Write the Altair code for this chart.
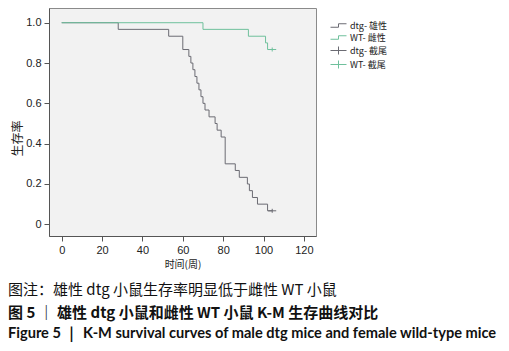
import altair as alt
import pandas as pd

# ---- data ----
dtg_weeks = [0, 28, 53, 60, 63, 64, 65, 66, 67, 68, 69, 70, 71, 73, 76, 77, 79, 81,
             86, 88, 92, 93, 94.5, 97, 102, 104.3]
dtg_surv = [1.0, 0.967, 0.933, 0.867, 0.833, 0.8, 0.767, 0.733, 0.7, 0.667, 0.633, 0.6,
            0.567, 0.533, 0.5, 0.467, 0.433, 0.3, 0.267, 0.233, 0.2, 0.167, 0.133, 0.1,
            0.067, 0.067]
wt_weeks = [0, 70, 92.5, 101, 102, 104.3]
wt_surv = [1.0, 0.967, 0.933, 0.9, 0.867, 0.867]

censor_weeks = [104.3, 104.3]
censor_surv = [0.067, 0.867]
censor_series = ["dtg- 截尾", "WT- 截尾"]

legend_labels = ["dtg- 雄性", "WT- 雌性", "dtg- 截尾", "WT- 截尾"]
legend_colors = ["#6b6b73", "#6fc09c", "#6b6b73", "#6fc09c"]

x_ticks = [0, 20, 40, 60, 80, 100, 120]
y_ticks = [0, 0.2, 0.4, 0.6, 0.8, 1.0]

x_title = "时间(周)"
y_title = "生存率"
caption_note = "图注：雄性 dtg 小鼠生存率明显低于雌性 WT 小鼠"
caption_cn = "图 5 ｜ 雄性 dtg 小鼠和雌性 WT 小鼠 K-M 生存曲线对比"
caption_en = "Figure 5 ｜ K-M survival curves of male dtg mice and female wild-type mice"

# ---- tables ----
curves = pd.concat([
    pd.DataFrame({"week": dtg_weeks, "surv": dtg_surv, "series": "dtg- 雄性"}),
    pd.DataFrame({"week": wt_weeks, "surv": wt_surv, "series": "WT- 雌性"}),
], ignore_index=True)
censors = pd.DataFrame({"week": censor_weeks, "surv": censor_surv, "series": censor_series})

step_path = "M-1.6,0.35H0V-0.35H1.6"
cross_path = "M-1.6,0H1.6M0,-0.8V0.8"

color_scale = alt.Scale(domain=legend_labels, range=legend_colors)
x_scale = alt.Scale(domain=[-6.3, 126], nice=False, zero=False)
y_scale = alt.Scale(domain=[-0.058, 1.073], nice=False, zero=False)

x_enc = alt.X("week:Q", scale=x_scale,
              axis=alt.Axis(values=x_ticks, title=x_title, titleFont="Noto Sans CJK SC",
                            titleFontSize=10, titleFontWeight="normal", titlePadding=4))
y_enc = alt.Y("surv:Q", scale=y_scale,
              axis=alt.Axis(values=y_ticks, title=y_title, titleFont="Noto Sans CJK SC",
                            titleFontSize=12, titleFontWeight="normal",
                            titleX=-32, titleY=130, titleAngle=270,
                            titleBaseline="middle", titleAlign="center",
                            labelExpr="datum.value == 0 ? '0' : format(datum.value, '.1f')"))

lines = alt.Chart(curves).mark_line(interpolate="step-after", strokeWidth=1).encode(
    x=x_enc, y=y_enc,
    color=alt.Color("series:N", scale=color_scale, title=None),
)

points = alt.Chart(censors).mark_point(filled=False, strokeWidth=1, size=25, opacity=1).encode(
    x=x_enc, y=y_enc,
    color=alt.Color("series:N", scale=color_scale, title=None),
    shape=alt.Shape("series:N", scale=alt.Scale(domain=legend_labels,
                                                range=[step_path, step_path, cross_path, cross_path]),
                    title=None),
)

def caption(text, y, weight, size, font):
    return alt.Chart(pd.DataFrame({"t": [text]})).mark_text(
        align="left", baseline="middle", font=font, fontSize=size, fontWeight=weight,
        color="#111"
    ).encode(text="t:N", x=alt.value(-41), y=alt.value(y))

cap1 = caption(caption_note, 282, "normal", 15, "Noto Sans CJK SC")
cap2 = caption(caption_cn, 305, "bold", 15, "Noto Sans CJK SC")
cap3 = caption(caption_en, 326, "bold", 14.6, "Lato")

chart = alt.layer(lines, points, cap1, cap2, cap3).properties(
    width=267, height=228,
    autosize=alt.AutoSizeParams(type="none"),
    padding={"left": 41, "top": 0, "right": 185, "bottom": 107},
).configure_view(
    fill="#f2f2f2", stroke="#8a8a8a", strokeWidth=1
).configure_axis(
    grid=False, domainColor="#555", tickColor="#555", tickSize=5,
    labelFont="Liberation Sans", labelFontSize=11, labelColor="#222", labelPadding=3,
    titleColor="#222"
).configure_legend(
    orient="none", legendX=284, legendY=12,
    labelFont="Noto Sans CJK SC", labelFontSize=9, labelColor="#222",
    symbolSize=100, symbolStrokeWidth=1, rowPadding=1, labelOffset=6,
    symbolType="stroke"
)

chart.save("out.html", embed_options={"renderer": "svg", "actions": False})
